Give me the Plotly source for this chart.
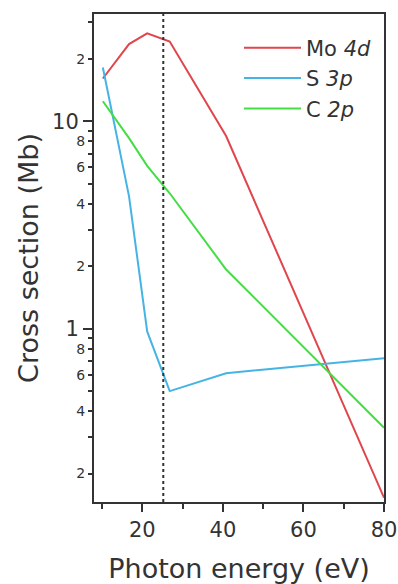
import plotly.graph_objects as go

# Photoionisation cross sections vs photon energy
energy = [10.2, 16.7, 21.2, 26.8, 40.8, 80]
mo_4d = [16.1, 23.6, 26.6, 24.3, 8.5, 0.153]
s_3p = [18.2, 4.35, 0.97, 0.50, 0.61, 0.72]
c_2p = [12.5, 8.3, 6.1, 4.5, 1.93, 0.333]

series_names = ["Mo <i>4d</i>", "S <i>3p</i>", "C <i>2p</i>"]
series_colors = ["#e0454c", "#45b4e4", "#44dd44"]

probe_energy = 25.2

# Axis ticks
x_major = [20, 40, 60, 80]
x_minor = [10, 30, 50, 70]
y_major = [1, 10]
y_major_text = ["1", "10"]
y_small = [0.2, 0.4, 0.6, 0.8, 2, 4, 6, 8, 20]
y_small_text = ["2", "4", "6", "8", "2", "4", "6", "8", "2"]
y_minor = [0.3, 0.5, 0.7, 0.9, 3, 5, 7, 9, 30]

x_range = [8, 80]
y_range = [-0.836, 1.518]

FONT = "DejaVu Sans"
INK = "#333333"

fig = go.Figure()
for name, vals, col, ax in zip(series_names, [mo_4d, s_3p, c_2p], series_colors, ["y", "y2", "y2"]):
    fig.add_trace(go.Scatter(x=energy, y=vals, name=name, mode="lines",
                             line=dict(color=col, width=2), yaxis=ax))

fig.add_shape(type="line", xref="x", yref="paper", x0=probe_energy, x1=probe_energy,
              y0=0, y1=1, line=dict(color=INK, width=2, dash="3px,3px"))

fig.update_layout(
    width=398, height=584,
    margin=dict(l=94, r=14, t=14, b=82, autoexpand=False),
    paper_bgcolor="white", plot_bgcolor="white",
    font=dict(family=FONT, color=INK),
    showlegend=True,
    legend=dict(x=0.5, y=0.972, xanchor="left", yanchor="top",
                font=dict(size=21, color=INK), itemwidth=57,
                bgcolor="rgba(0,0,0,0)", tracegroupgap=0),
    xaxis=dict(range=x_range, tickmode="array", tickvals=x_major, automargin=False,
               ticks="outside", ticklen=8, tickwidth=2, tickcolor=INK,
               minor=dict(tickvals=x_minor, ticks="outside", ticklen=5, tickwidth=2, tickcolor=INK),
               tickfont=dict(size=21, color=INK),
               showline=True, linecolor=INK, linewidth=2, mirror=True,
               showgrid=False, zeroline=False,
               title=dict(text="Photon energy (eV)", font=dict(size=27, color=INK), standoff=19)),
    yaxis=dict(type="log", range=y_range, tickmode="array", tickvals=y_major, automargin=False,
               ticktext=y_major_text, ticks="outside", ticklen=9, tickwidth=2, tickcolor=INK,
               tickfont=dict(size=21, color=INK), ticklabelstandoff=0,
               showline=True, linecolor=INK, linewidth=2, mirror=True,
               showgrid=False, zeroline=False,
               title=dict(text="Cross section (Mb)", font=dict(size=27, color=INK), standoff=6)),
    yaxis2=dict(type="log", range=y_range, overlaying="y", side="left", automargin=False,
                tickmode="array", tickvals=y_small, ticktext=y_small_text,
                ticks="outside", ticklen=5, tickwidth=2, tickcolor=INK,
                minor=dict(tickvals=y_minor, ticks="outside", ticklen=5, tickwidth=2, tickcolor=INK),
                tickfont=dict(size=14, color=INK),
                showline=False, showgrid=False, zeroline=False),
)

fig.write_html("out.html")
